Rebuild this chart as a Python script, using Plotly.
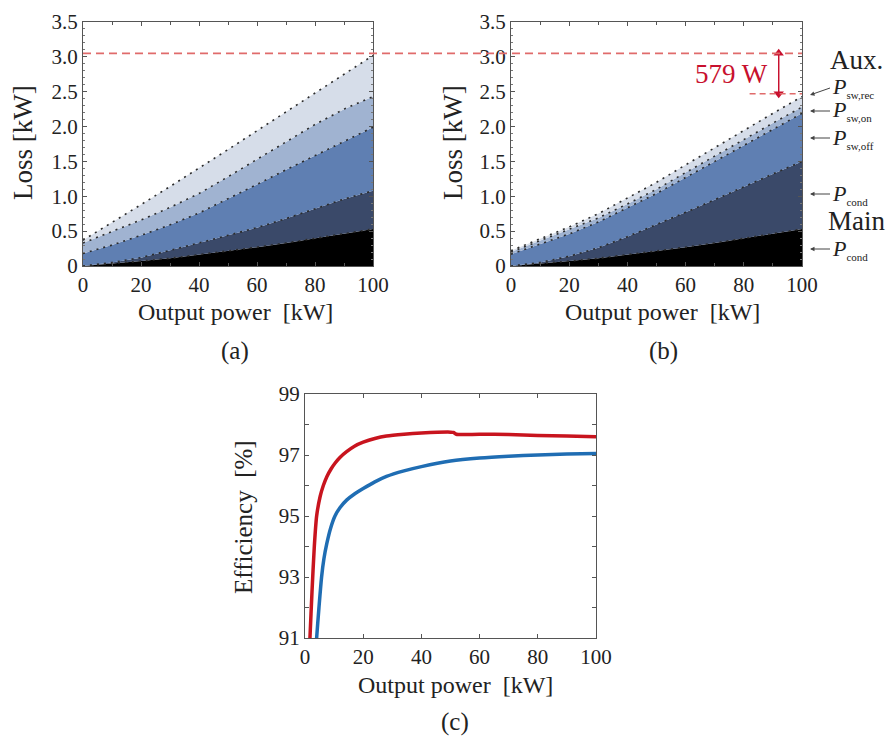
import plotly.graph_objects as go

# ---------------- data ----------------
power_kw = [0, 10, 20, 30, 40, 50, 60, 70, 80, 90, 100]

# (a) cumulative loss boundaries [kW]
a_main_cond = [0, 0.03, 0.07, 0.11, 0.16, 0.21, 0.27, 0.33, 0.40, 0.46, 0.53]
a_aux_cond = [0, 0.05, 0.12, 0.22, 0.33, 0.44, 0.55, 0.68, 0.82, 0.96, 1.08]
a_sw_off = [0.18, 0.30, 0.44, 0.59, 0.76, 0.96, 1.17, 1.38, 1.58, 1.79, 1.99]
a_sw_on = [0.33, 0.49, 0.66, 0.84, 1.04, 1.28, 1.53, 1.78, 2.03, 2.25, 2.43]
a_sw_rec = [0.37, 0.62, 0.88, 1.14, 1.40, 1.67, 1.94, 2.21, 2.48, 2.75, 3.02]

# (b) cumulative loss boundaries [kW]
b_main_cond = [0, 0.03, 0.07, 0.11, 0.16, 0.21, 0.27, 0.33, 0.40, 0.46, 0.53]
b_aux_cond = [0, 0.05, 0.14, 0.26, 0.42, 0.59, 0.77, 0.95, 1.14, 1.32, 1.50]
b_sw_off = [0.17, 0.31, 0.46, 0.63, 0.83, 1.04, 1.27, 1.50, 1.73, 1.96, 2.19]
b_sw_on = [0.20, 0.36, 0.52, 0.69, 0.89, 1.10, 1.34, 1.58, 1.81, 2.05, 2.28]
b_sw_rec = [0.22, 0.39, 0.56, 0.75, 0.97, 1.20, 1.45, 1.70, 1.95, 2.19, 2.43]

max_loss_a = 3.05       # kW, red dashed reference
loss_reduction = 0.579  # kW (579 W)
arrow_power = 92        # kW, x position of the 579 W arrow

# (c) efficiency curves
eff_red_x = [1.5, 1.7, 2.4, 3.2, 4.0, 5.2, 6.3, 7.5, 9, 10.3, 12, 14.3, 17, 20, 24, 28, 34, 40,
             50, 51, 52, 60, 70, 80, 90, 100]
eff_red_y = [90.6, 91.0, 92.5, 94.0, 95.0, 95.64, 96.0, 96.29, 96.55, 96.73, 96.92, 97.11, 97.29,
             97.42, 97.54, 97.62, 97.68, 97.72, 97.75, 97.74, 97.68, 97.68, 97.67, 97.64, 97.62, 97.6]
eff_blue_x = [3.8, 4.0, 4.8, 5.7, 6.5, 7.5, 8.8, 10.3, 12, 14.3, 17, 20, 24, 28, 34, 40, 50, 60,
              70, 80, 90, 100]
eff_blue_y = [90.6, 91.0, 92.0, 93.0, 93.6, 94.1, 94.6, 95.0, 95.27, 95.52, 95.72, 95.9, 96.12,
              96.3, 96.48, 96.62, 96.8, 96.9, 96.96, 97.0, 97.03, 97.05]

loss_ticks = [0, 0.5, 1.0, 1.5, 2.0, 2.5, 3.0, 3.5]
loss_ticklabels = ["0", "0.5", "1.0", "1.5", "2.0", "2.5", "3.0", "3.5"]
power_ticks = [0, 20, 40, 60, 80, 100]
eff_ticks = [91, 93, 95, 97, 99]

layer_colors = ["#000000", "#3a4969", "#5f7fb2", "#a0b3d1", "#d6dde9"]

# ---------------- figure ----------------
W, H = 893, 737
FONT = "Times New Roman, Liberation Serif, serif"


def px(v):
    return v / W


def py(v):
    return 1 - v / H


fig = go.Figure()


def add_stack(layers, xa, ya):
    for i, (vals, col) in enumerate(zip(layers, layer_colors)):
        fig.add_trace(go.Scatter(
            x=power_kw, y=vals, xaxis=xa, yaxis=ya,
            mode="lines",
            line=dict(color="#2b2b2b", width=1.6, dash="2px,5px"),
            fill="tozeroy" if i == 0 else "tonexty",
            fillcolor=col, hoverinfo="skip", showlegend=False))


add_stack([a_main_cond, a_aux_cond, a_sw_off, a_sw_on, a_sw_rec], "x", "y")
add_stack([b_main_cond, b_aux_cond, b_sw_off, b_sw_on, b_sw_rec], "x2", "y2")

fig.add_trace(go.Scatter(x=eff_red_x, y=eff_red_y, xaxis="x3", yaxis="y3", mode="lines",
                         line=dict(color="#c8141e", width=3.5, shape="spline", smoothing=0.7),
                         showlegend=False))
fig.add_trace(go.Scatter(x=eff_blue_x, y=eff_blue_y, xaxis="x3", yaxis="y3", mode="lines",
                         line=dict(color="#1f6db3", width=3.5, shape="spline", smoothing=0.7),
                         showlegend=False))

# double-headed 579 W arrow drawn as a line with triangle heads
fig.add_trace(go.Scatter(
    x=[arrow_power, arrow_power],
    y=[max_loss_a - loss_reduction, max_loss_a],
    xaxis="x2", yaxis="y2", mode="lines+markers",
    line=dict(color="#c8102e", width=1.5),
    marker=dict(symbol=["triangle-down", "triangle-up"], size=9, color="#c8102e"),
    hoverinfo="skip", showlegend=False))

axis_common = dict(showline=True, linecolor="#555", linewidth=1.3, mirror="ticks",
                   ticks="inside", ticklen=4, tickcolor="#555", tickwidth=1,
                   showgrid=False, zeroline=False, automargin=False,
                   tickfont=dict(family=FONT, size=21, color="#222"))

xa_dom = [px(83), px(373)]
xb_dom = [px(511), px(802)]
xc_dom = [px(305), px(596)]
yab_dom = [py(266), py(22)]
yc_dom = [py(638), py(394)]

loss_x = dict(range=[0, 100], tickvals=power_ticks,
              minor=dict(dtick=10, tick0=0, ticks="inside", ticklen=3, tickcolor="#555"))
loss_y = dict(range=[0, 3.5], tickvals=loss_ticks, ticktext=loss_ticklabels,
              minor=dict(dtick=0.1, tick0=0, ticks="inside", ticklen=2, tickcolor="#777"))

fig.update_layout(
    template="none",
    width=W, height=H, margin=dict(l=0, r=0, t=0, b=0, pad=0, autoexpand=False),
    paper_bgcolor="white", plot_bgcolor="white", showlegend=False,
    font=dict(family=FONT, color="#222"),
    xaxis=dict(domain=xa_dom, anchor="y", **loss_x, **axis_common),
    yaxis=dict(domain=yab_dom, anchor="x", **loss_y, **axis_common),
    xaxis2=dict(domain=xb_dom, anchor="y2", **loss_x, **axis_common),
    yaxis2=dict(domain=yab_dom, anchor="x2", **loss_y, **axis_common),
    xaxis3=dict(domain=xc_dom, anchor="y3", range=[0, 100], tickvals=power_ticks, **axis_common),
    yaxis3=dict(domain=yc_dom, anchor="x3", range=[91, 99], tickvals=eff_ticks,
                minor=dict(dtick=1, tick0=91, ticks="inside", ticklen=4, tickcolor="#555"),
                **axis_common),
)

# red dashed reference lines
fig.add_shape(type="line", xref="paper", yref="y", x0=px(83), x1=px(802),
              y0=max_loss_a, y1=max_loss_a,
              line=dict(color="#e06b6b", width=1.6, dash="8px,5px"), layer="above")
fig.add_shape(type="line", xref="x2", yref="y2", x0=82, x1=100,
              y0=max_loss_a - loss_reduction, y1=max_loss_a - loss_reduction,
              line=dict(color="#e06b6b", width=1.6, dash="6px,4px"), layer="above")

ann = []
ann.append(dict(xref="x2", yref="y2", x=89, y=2.76, text="579 W", showarrow=False,
                xanchor="right", yanchor="middle",
                font=dict(family=FONT, size=27, color="#c8102e")))

# axis titles (as text)
title_font = dict(family=FONT, size=24, color="#222")
for cx, cy in [(235, 312), (662, 312), (455, 685)]:
    ann.append(dict(xref="paper", yref="paper", x=px(cx), y=py(cy),
                    text="Output power&nbsp; [kW]",
                    showarrow=False, xanchor="center", yanchor="middle", font=title_font))
for cx, cy in [(23, 143), (453, 143)]:
    ann.append(dict(xref="paper", yref="paper", x=px(cx), y=py(cy), text="Loss [kW]",
                    textangle=-90, showarrow=False, xanchor="center", yanchor="middle",
                    font=dict(family=FONT, size=27, color="#222")))
ann.append(dict(xref="paper", yref="paper", x=px(243), y=py(517), text="Efficiency&nbsp; [%]",
                textangle=-90, showarrow=False, xanchor="center", yanchor="middle",
                font=dict(family=FONT, size=25, color="#222")))
for lbl, cx, cy in [("(a)", 235, 351), ("(b)", 663, 351), ("(c)", 455, 722)]:
    ann.append(dict(xref="paper", yref="paper", x=px(cx), y=py(cy), text=lbl,
                    showarrow=False, xanchor="center", yanchor="middle",
                    font=dict(family=FONT, size=25, color="#222")))

# right-hand labels for panel (b)
big_font = dict(family=FONT, size=27, color="#222")
ann.append(dict(xref="paper", yref="paper", x=px(828), y=py(60), text="Aux.",
                showarrow=False, xanchor="left", yanchor="middle", font=big_font))
ann.append(dict(xref="paper", yref="paper", x=px(826), y=py(221), text="Main",
                showarrow=False, xanchor="left", yanchor="middle", font=big_font))

p_labels = [("sw,rec", 95, -7), ("sw,on", 111, 0), ("sw,off", 138, 0),
            ("cond", 194, 0), ("cond", 249, 0)]
for sub, cy, dy in p_labels:
    ann.append(dict(xref="paper", yref="paper", x=px(810), y=py(cy),
                    ax=20, ay=dy, xanchor="left", yanchor="middle",
                    text="<i>P</i><sub><span style='font-size:11px'>" + sub + "</span></sub>",
                    showarrow=True, arrowhead=2, arrowsize=0.9, arrowwidth=1,
                    arrowcolor="#444",
                    font=dict(family=FONT, size=22, color="#222")))

fig.update_layout(annotations=ann)

fig.write_html(
    "out.html",
    config={"displayModeBar": False},
    post_script="document.body.style.margin='0';document.body.style.overflow='hidden';",
)
